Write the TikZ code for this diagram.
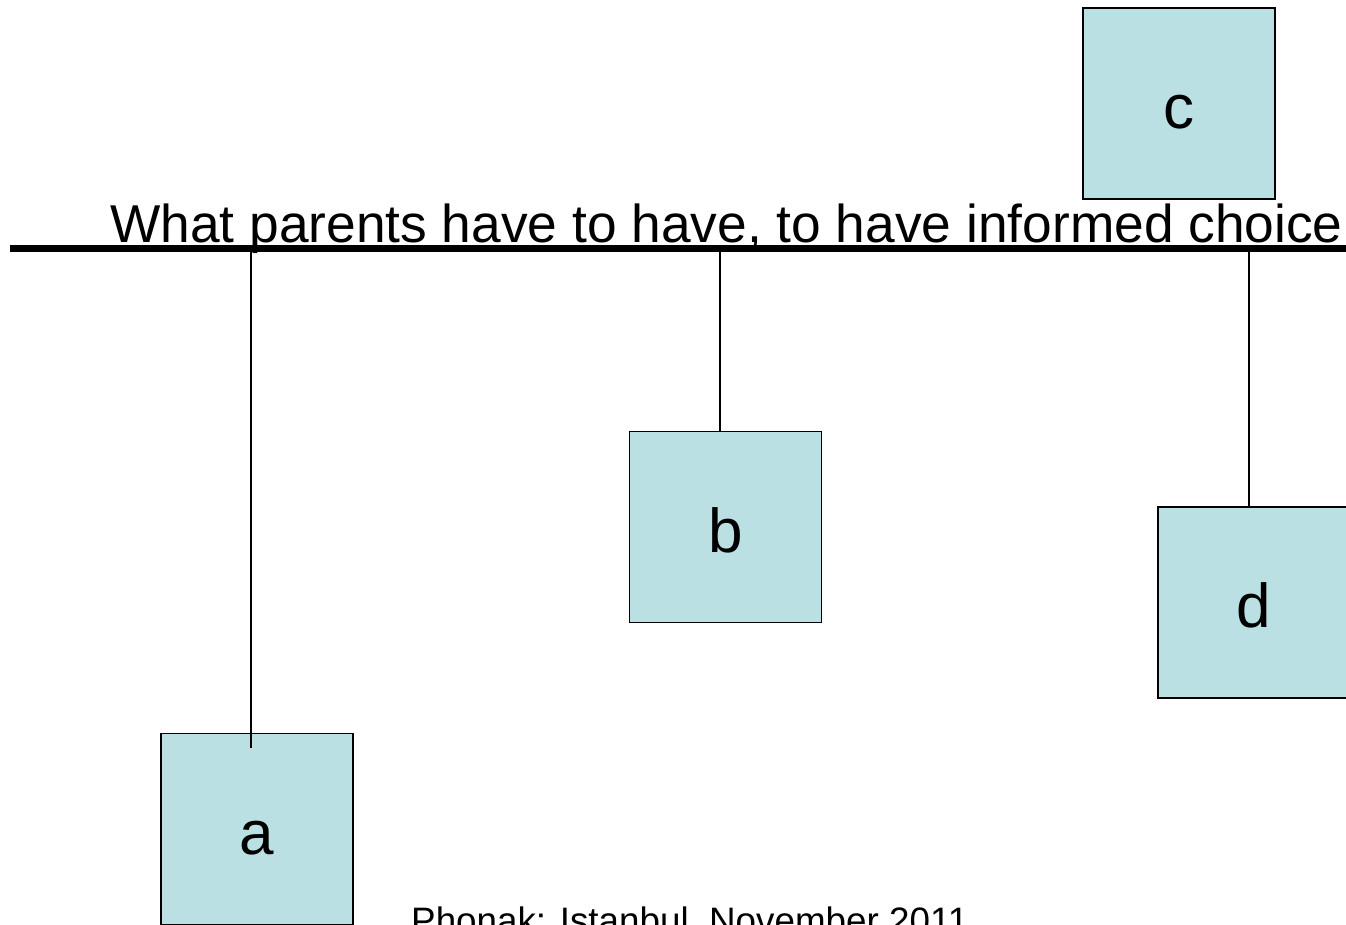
\documentclass[tikz,border=0pt]{standalone}
\usepackage{fontspec}
\setmainfont{Liberation Sans}
\definecolor{boxfill}{RGB}{186,224,227}
\begin{document}
\begin{tikzpicture}[x=1pt,y=-1pt,
  card/.style={draw=black,line width=1.8pt,fill=boxfill,rectangle,minimum width=192pt,minimum height=191pt,inner sep=0pt,
    font=\fontsize{62}{62}\selectfont,text height=50pt,text depth=0pt},
  stem/.style={line width=1.5pt,draw=black},
  bar/.style={line width=7pt,draw=black}]
\useasboundingbox (0,0) rectangle (1346,925);
\clip (0,0) rectangle (1346,925);
\fill[white] (0,0) rectangle (1346,925);
% boxes
\node[card] (c) at (1179,103.5) {c};
\node[card] (b) at (725.5,527) {b};
\node[card] (d) at (1254,602.5) {d};
\node[card] (a) at (257,829) {a};
% title and bar
\node[anchor=base west,inner sep=0pt,font=\fontsize{53.3}{53.3}\selectfont] (title) at (110,243) {What parents have to have, to have informed choice};
\coordinate (barL) at (10,249);
\coordinate (barR) at (1346,249);
\draw[bar] (barL) -- (barR);
\coordinate (ta) at (251,249);
\coordinate (tb) at (720,249);
\coordinate (td) at (1249,249);
\coordinate (ea) at (251,748);
\draw[stem] (ta) -- (ea);
\draw[stem] (tb) -- (tb |- b.north);
\draw[stem] (td) -- (td |- d.north);
% footer
\node[anchor=base west,inner sep=0pt,font=\fontsize{36.8}{36.8}\selectfont] (foot) at (411,933) {Phonak: Istanbul, November 2011};
\end{tikzpicture}
\end{document}
